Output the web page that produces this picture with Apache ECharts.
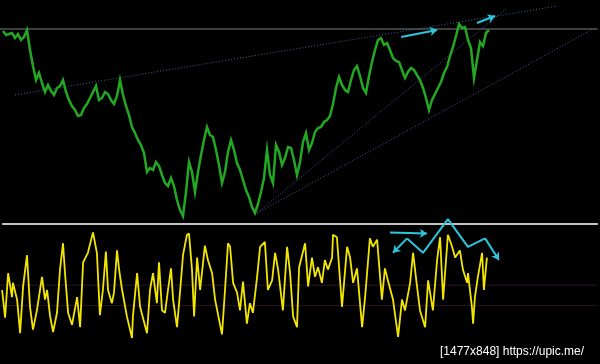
<!DOCTYPE html>
<html>
<head>
<meta charset="utf-8">
<script src="https://cdn.jsdelivr.net/npm/echarts@6/dist/echarts.min.js"></script>
<style>html,body{margin:0;padding:0;background:#000;}#c{width:600px;height:364px;}</style>
</head>
<body>
<div id="c"></div>
<script>
// Price panel: one close value per bar (bar 1..163)
const closePrice = [
 191,187,188,189,184,188,182,185,192,172,
 156,142,149,139,130,137,131,127,134,136,
 142,130,122,116,112,106,107,114,118,124,
 130,136,122,124,130,128,122,118,126,142,
 127,116,107,95,89,82,77,69,50,54,
 52,60,56,47,39,36,44,36,22,12,
 6,30,60,50,30,50,67,82,95,87,
 85,72,57,39,50,70,82,72,59,52,
 42,32,25,15,9,18,30,44,72,47,
 39,77,70,57,64,75,74,62,47,60,
 80,89,72,79,90,94,95,100,102,106,
 118,134,145,137,132,130,142,152,156,146,
 134,129,146,160,172,182,184,177,179,172,
 164,161,160,152,144,150,154,152,147,142,
 134,124,112,122,128,134,140,149,155,166,
 175,186,198,194,195,182,174,144,162,180,
 176,189,192
];
// Oscillator panel: turning points [bar, value 0..100]
const oscillator = [
 [0.7,45],[1.7,22],[2.7,59],[4,39],[4.3,51],[5.7,37],[6.7,9],[7.7,48],[9,74],[10,31],
 [11,12],[12.3,28],[14,56],[15,37],[15.7,45],[16.7,23],[17.7,10],[19,26],[20,62],[21,84],
 [21.7,58],[22.7,26],[24,16],[25.7,39],[26.7,14],[27.7,68],[29.3,76],[31,93],[32.3,76],[33.3,24],
 [34.3,45],[35.3,77],[36,45],[37.3,34],[38,43],[39,78],[39.7,62],[40.7,45],[42.3,23],[44,5],
 [44.3,23],[45.7,59],[46.7,31],[49,9],[50,45],[51,59],[52.3,34],[53,68],[54,28],[55,26],
 [56,45],[57,63],[57.7,37],[59,14],[60,43],[61,74],[62.3,91],[63,92],[64,62],[64.7,23],
 [65.7,72],[66.7,45],[68.3,82],[69.3,70],[70.7,59],[71.7,37],[74,8],[75,45],[76,84],[76.7,81],
 [77.7,51],[79,43],[80,28],[81,52],[82.3,17],[83.3,34],[84.3,26],[85.7,56],[86.7,81],[88.3,85],
 [89.3,45],[90.7,53],[91.7,76],[92.7,62],[94.3,28],[95.7,81],[96.7,59],[97.7,23],[99,14],[99.7,64],
 [101.7,84],[102.7,48],[104,72],[105,56],[106,64],[107.3,51],[108.3,70],[109.3,62],[110.7,72],[111,91],
 [112.3,89],[114,31],[115.7,81],[116.7,72],[117.7,51],[119,63],[120.7,14],[121.7,39],[123.3,88],[124.3,81],
 [125.7,87],[127.3,37],[128.3,63],[129.3,53],[131,37],[132.7,6],[134,37],[135,28],[136.7,51],[137.7,76],
 [139,48],[140,28],[141.7,14],[142.7,53],[144.3,28],[145.7,70],[146.7,89],[147.7,37],[149.3,91],[150.7,81],
 [151.7,72],[153.3,78],[154.3,62],[155.7,51],[156,59],[157.3,31],[157.7,17],[158.3,39],[159.3,56],[160.7,76],
 [161.3,45],[162.3,72]
];
// Drawn objects (bar, level)
const resistanceLevel = 193;
const separatorLevel = 100;
const oscLevels = [49, 32];
const trendLines = [
 [[5,127],[185.7,216]],
 [[85.7,9],[169,214]],
 [[85.7,9],[198.3,194]]
];
const priceArrows = [
 [[133.7,185],[145.7,192]],
 [[159,199],[165,206]]
];
const oscArrows = [
 [[130,93],[142.3,92]],
 [[135.7,88],[131,76]],
 [[161.7,88],[166.3,70]]
];
const oscZigzag = [[135.7,88],[141,76],[149.3,104],[156,81],[161.7,88]];
const watermark = '[1477x848] https://upic.me/';

const chart = echarts.init(document.getElementById('c'), null, {renderer:'canvas'});
const series = [];
series.push({type:'line', xAxisIndex:0, yAxisIndex:0, data:[[0,resistanceLevel],[199.3,resistanceLevel]],
  symbol:'none', lineStyle:{color:'#7c7c7c', width:1}, silent:true, z:1});
trendLines.forEach(t => series.push({type:'line', xAxisIndex:0, yAxisIndex:0, data:t, symbol:'none', clip:false,
  lineStyle:{color:'#3f5f9c', width:1, type:[1,2]}, silent:true, z:2}));
series.push({type:'line', xAxisIndex:0, yAxisIndex:0, data:closePrice.map((v,i)=>[i+1,v]), symbol:'none',
  lineStyle:{color:'#22a822', width:2.5, join:'miter'}, silent:true, z:3});
series.push({type:'lines', coordinateSystem:'cartesian2d', xAxisIndex:0, yAxisIndex:0, clip:false,
  data:priceArrows.map(c=>({coords:c})), symbol:['none','arrow'], symbolSize:7,
  lineStyle:{color:'#2cc6dc', width:2, opacity:1}, z:5});
oscLevels.forEach(l => series.push({type:'line', xAxisIndex:1, yAxisIndex:1, data:[[0,l],[199.3,l]], symbol:'none',
  lineStyle:{color:'#2c1428', width:1}, silent:true, z:1}));
series.push({type:'line', xAxisIndex:1, yAxisIndex:1, data:[[0.7,separatorLevel],[199.3,separatorLevel]], symbol:'none', clip:false,
  lineStyle:{color:'#c4c4c4', width:2}, silent:true, z:2});
series.push({type:'line', xAxisIndex:1, yAxisIndex:1, data:oscillator, symbol:'none',
  lineStyle:{color:'#f2e600', width:1.8}, silent:true, z:3});
series.push({type:'line', xAxisIndex:1, yAxisIndex:1, data:oscZigzag, symbol:'none', clip:false,
  lineStyle:{color:'#2cc6dc', width:2}, silent:true, z:5});
series.push({type:'lines', coordinateSystem:'cartesian2d', xAxisIndex:1, yAxisIndex:1, clip:false,
  data:oscArrows.map(c=>({coords:c})), symbol:['none','arrow'], symbolSize:7,
  lineStyle:{color:'#2cc6dc', width:2, opacity:1}, z:5});

chart.setOption({
  backgroundColor:'#000',
  animation:false,
  title:{text:watermark, left:440, top:346, padding:0,
    textStyle:{color:'#ffffff', fontSize:12, fontWeight:'normal', fontFamily:'Liberation Sans'}},
  grid:[{left:0,right:0,top:0,height:222},{left:0,right:0,top:224,height:120}],
  xAxis:[{type:'value',gridIndex:0,min:0,max:200,show:false},{type:'value',gridIndex:1,min:0,max:200,show:false}],
  yAxis:[{type:'value',gridIndex:0,min:0,max:222,show:false},{type:'value',gridIndex:1,min:0,max:100,show:false}],
  series:series
});
</script>
</body>
</html>
